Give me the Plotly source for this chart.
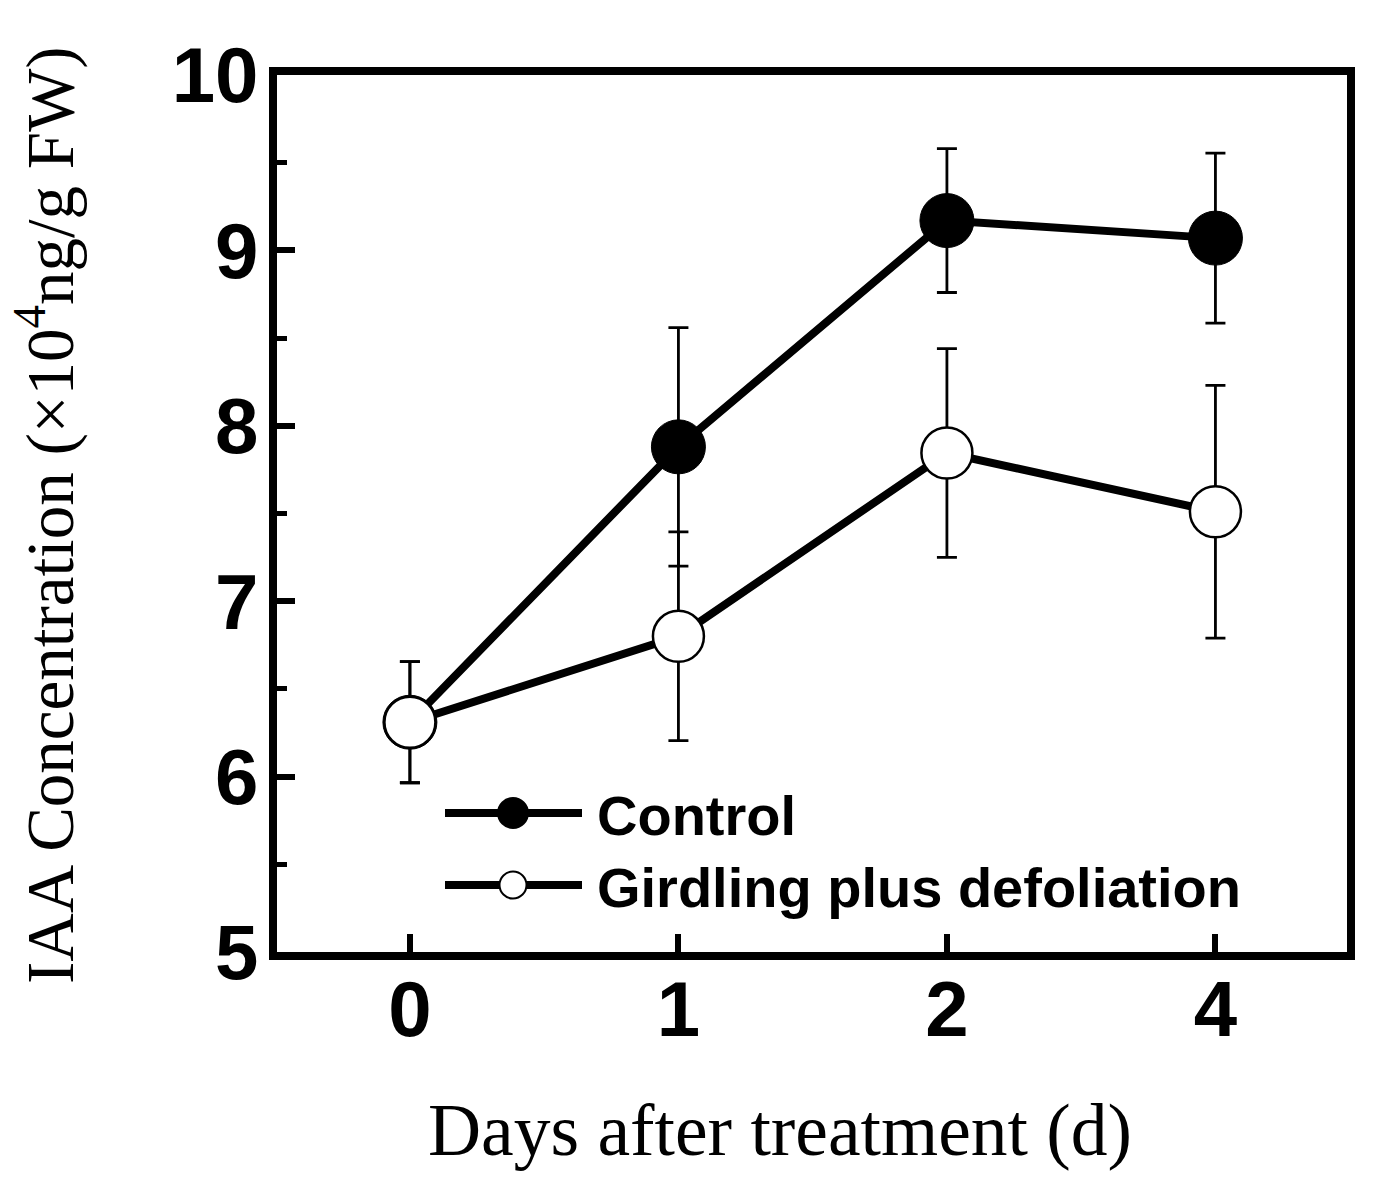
import plotly.graph_objects as go

# ---- data ----
day_labels = ["0", "1", "2", "4"]
day_index = [0, 1, 2, 3]
control = [6.31, 7.88, 9.17, 9.07]
control_err = [0.345, 0.68, 0.41, 0.485]
girdling = [6.31, 6.80, 7.845, 7.51]
girdling_err = [0.345, 0.595, 0.595, 0.72]
y_ticks = [5, 6, 7, 8, 9, 10]
series_names = ["Control", "Girdling plus defoliation"]

W, H = 1381, 1199
L, R, T, B = 277, 34, 75, 247
pw, ph = W - L - R, H - T - B

def px_x(p):
    return (p - L) / pw

def px_y(p):
    return (H - B - p) / ph

fig = go.Figure()

fig.add_trace(go.Scatter(
    x=day_index, y=control, mode="lines+markers", name=series_names[0],
    line=dict(color="black", width=8),
    marker=dict(symbol="circle", size=54, color="black", line=dict(color="black", width=1)),
    error_y=dict(type="data", array=control_err, visible=True, color="black", thickness=2.8, width=10),
    showlegend=False,
))
fig.add_trace(go.Scatter(
    x=day_index, y=girdling, mode="lines+markers", name=series_names[1],
    line=dict(color="black", width=8),
    marker=dict(symbol="circle", size=51, color="white", line=dict(color="black", width=2.5)),
    error_y=dict(type="data", array=girdling_err, visible=True, color="black", thickness=2.8, width=10),
    showlegend=False,
))

# ---- custom legend (paper coordinates) ----
shapes = []
annotations = []
leg_rows = [(813, "black", 30), (885, "white", 27)]
for (py, fill, d), name in zip(leg_rows, series_names):
    shapes.append(dict(type="line", xref="paper", yref="paper",
                       x0=px_x(445), x1=px_x(582), y0=px_y(py), y1=px_y(py),
                       line=dict(color="black", width=8)))
    shapes.append(dict(type="circle", xref="paper", yref="paper",
                       x0=px_x(513 - d / 2), x1=px_x(513 + d / 2),
                       y0=px_y(py + d / 2), y1=px_y(py - d / 2),
                       fillcolor=fill, line=dict(color="black", width=2)))
    annotations.append(dict(text=name, xref="paper", yref="paper",
                            x=px_x(595), y=px_y(py + 2), xanchor="left", yanchor="middle",
                            showarrow=False,
                            font=dict(family="Liberation Sans, Arial", size=56, color="black", weight="bold")))

annotations.append(dict(text="Days after treatment (d)", xref="paper", yref="paper",
                        x=px_x(780), y=px_y(1130), xanchor="center", yanchor="middle",
                        showarrow=False,
                        font=dict(family="Liberation Serif, Times New Roman", size=73.5, color="black")))
annotations.append(dict(text="IAA Concentration (×10<sup>4</sup>ng/g FW)", xref="paper", yref="paper",
                        x=px_x(45), y=px_y(515), xanchor="center", yanchor="middle",
                        textangle=-90, showarrow=False,
                        font=dict(family="Liberation Serif, Times New Roman", size=67, color="black")))

tickfont = dict(family="Liberation Sans, Arial", size=78, color="black", weight="bold")

fig.update_layout(
    width=W, height=H,
    margin=dict(l=L, r=R, t=T, b=B, autoexpand=False),
    paper_bgcolor="white", plot_bgcolor="white",
    showlegend=False,
    shapes=shapes, annotations=annotations,
    xaxis=dict(range=[-0.495, 3.49], tickvals=day_index, ticktext=day_labels,
               showgrid=False, zeroline=False, showline=True, linecolor="black", linewidth=8,
               mirror=True, ticks="inside", ticklen=18, tickwidth=6, tickcolor="black",
               tickfont=tickfont, ticklabelstandoff=-18),
    yaxis=dict(range=[5, 10], tickvals=y_ticks,
               showgrid=False, zeroline=False, showline=True, linecolor="black", linewidth=8,
               mirror=True, ticks="inside", ticklen=18, tickwidth=6, tickcolor="black",
               tickfont=tickfont, ticklabelstandoff=-5,
               minor=dict(dtick=0.5, ticks="inside", ticklen=10, tickwidth=5, tickcolor="black", showgrid=False)),
)

fig.write_html("out.html", config={"displayModeBar": False},
               post_script="document.body.style.margin='0px';")
